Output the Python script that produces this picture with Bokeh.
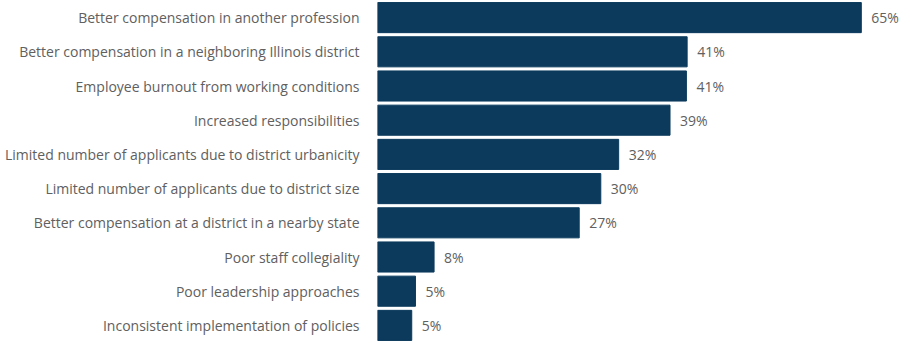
from bokeh.plotting import figure
from bokeh.models import FactorRange, Range1d, ColumnDataSource
from bokeh.core.properties import value
from bokeh.embed import file_html
from bokeh.resources import INLINE

categories = [
    "Better compensation in another profession",
    "Better compensation in a neighboring Illinois district",
    "Employee burnout from working conditions",
    "Increased responsibilities",
    "Limited number of applicants due to district urbanicity",
    "Limited number of applicants due to district size",
    "Better compensation at a district in a nearby state",
    "Poor staff collegiality",
    "Poor leadership approaches",
    "Inconsistent implementation of policies",
]
values = [65.0, 41.6, 41.5, 39.3, 32.4, 30.0, 27.1, 7.6, 5.1, 4.6]
value_labels = ["65%", "41%", "41%", "39%", "32%", "30%", "27%", "8%", "5%", "5%"]

FONT = "Open Sans"
BAR = "#0b3a5c"
TEXT = "#606060"

source = ColumnDataSource(data=dict(cat=categories, val=values, lab=value_labels))

p = figure(
    width=901, height=342,
    y_range=FactorRange(factors=list(reversed(categories)), range_padding=0),
    x_range=Range1d(0, 70.4),
    output_backend="svg", toolbar_location=None,
    min_border_left=377, min_border_right=0, min_border_top=0, min_border_bottom=0,
)
p.hbar(y="cat", right="val", left=0, height=0.88, source=source,
       fill_color=BAR, line_color=BAR)
p.text(x="val", y="cat", text="lab", source=source, x_offset=10,
       text_align="left", text_baseline="middle",
       text_font=value(FONT), text_font_size="14px", text_color=TEXT)

p.xaxis.visible = False
p.yaxis.axis_line_color = None
p.yaxis.major_tick_line_color = None
p.yaxis.minor_tick_line_color = None
p.yaxis.major_label_standoff = 12
p.yaxis.major_label_text_font = FONT
p.yaxis.major_label_text_font_size = "14px"
p.yaxis.major_label_text_color = TEXT
p.xgrid.grid_line_color = None
p.ygrid.grid_line_color = None
p.outline_line_color = None

open("out.html", "w").write(file_html(p, INLINE))
